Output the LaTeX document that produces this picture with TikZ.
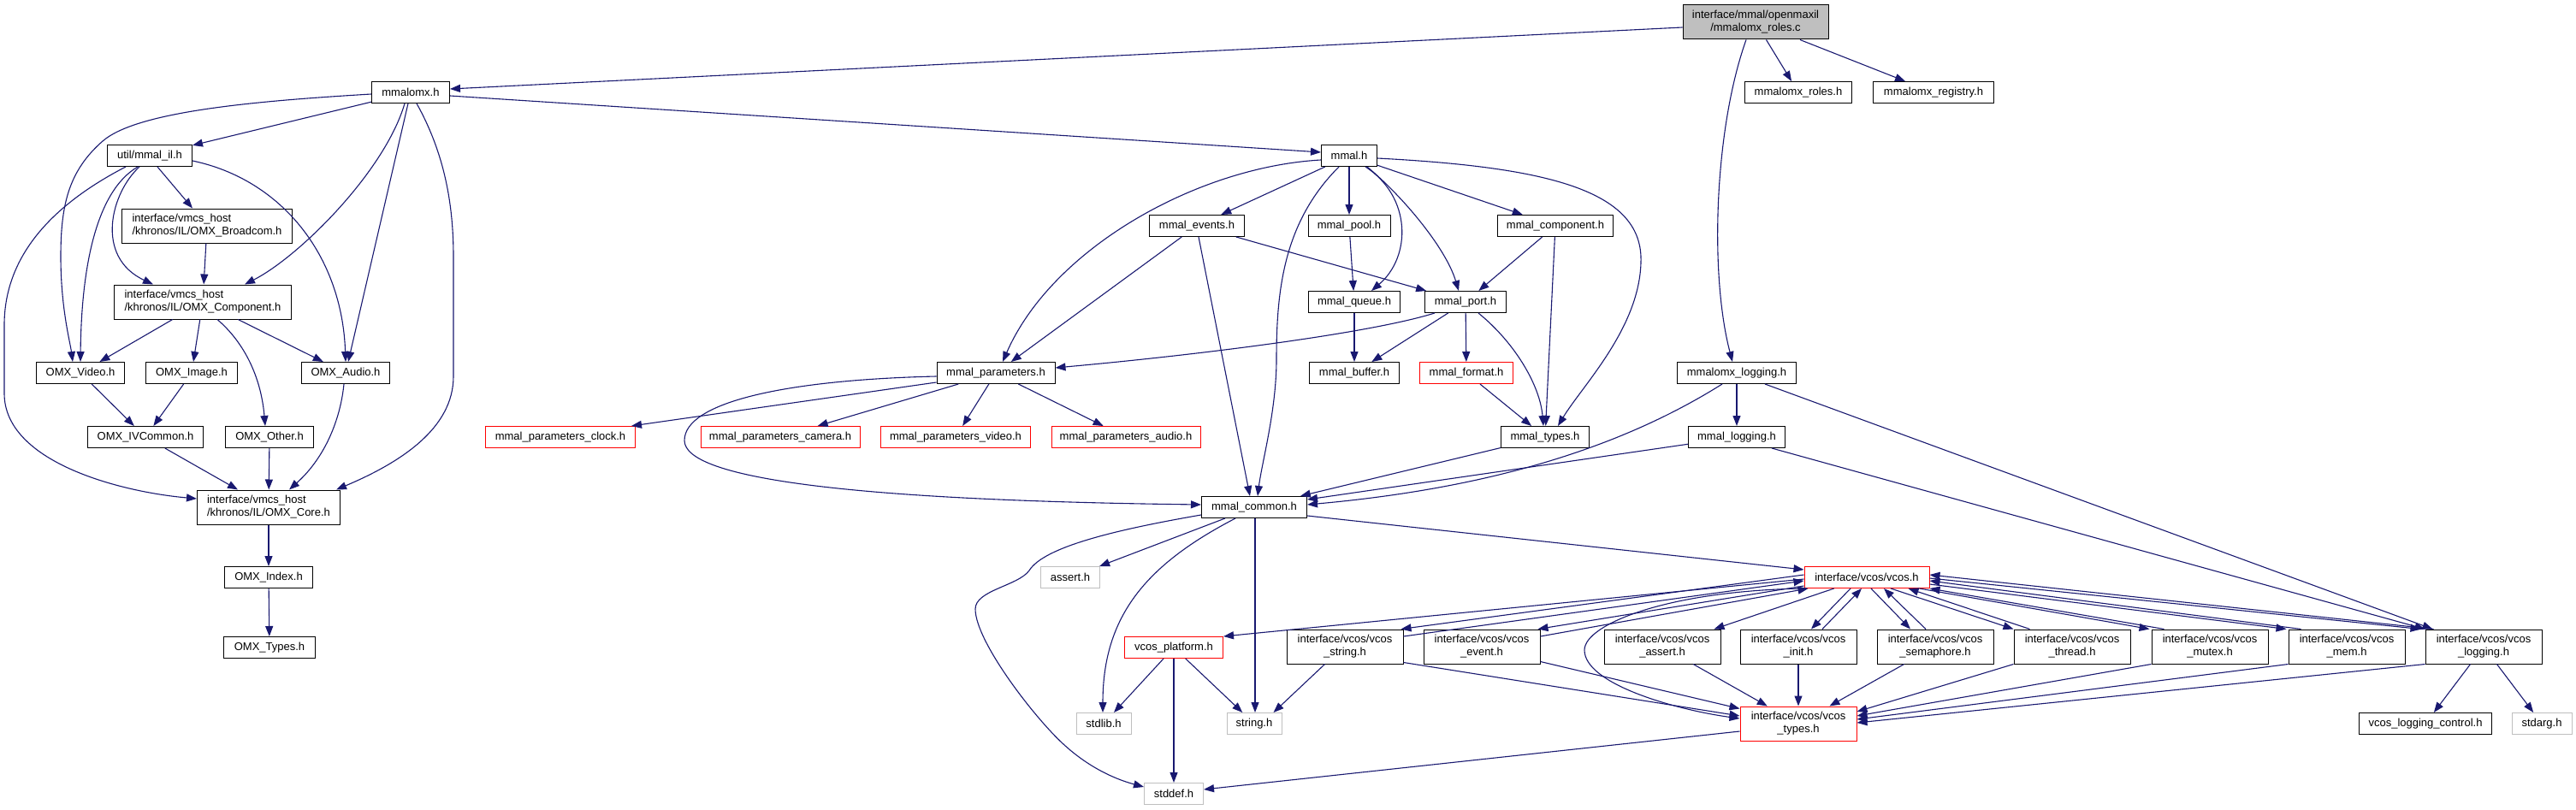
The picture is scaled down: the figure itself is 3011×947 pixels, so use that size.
\documentclass[tikz,border=0pt]{standalone}
\usepackage{fontspec}
\setmainfont{Liberation Sans}
\usetikzlibrary{arrows.meta,calc}
\definecolor{edgecol}{RGB}{25,25,112}
\definecolor{grey75}{RGB}{191,191,191}
\begin{document}
\begin{tikzpicture}[x=1pt,y=-1pt,
  box/.style={draw=black, line width=1pt, rectangle, inner sep=0pt, minimum height=25pt, align=center, font=\fontsize{13}{15}\selectfont},
  tall/.style={minimum height=40pt},
  redbox/.style={box, draw=red},
  greybox/.style={box, draw=grey75},
  dep/.style={draw=edgecol, line width=1.1pt, -{Triangle[length=12pt,width=9pt]}},
]
\useasboundingbox (0,0) rectangle (3011,947);

% ---------- nodes ----------
\node[box, tall, fill=grey75, minimum width=170pt] (root) at (2052,26) {interface/mmal/openmaxil\\/mmalomx\_roles.c};
\node[box, minimum width=91pt] (mmalomx) at (480,108) {mmalomx.h};
\node[box, minimum width=125pt] (roles) at (2102,108) {mmalomx\_roles.h};
\node[box, minimum width=141pt] (registry) at (2260,108) {mmalomx\_registry.h};
\node[box, minimum width=99pt] (mmalil) at (175,182) {util/mmal\_il.h};
\node[box, minimum width=65pt] (mmal) at (1577,182) {mmal.h};
\node[box, tall, align=left, minimum width=199pt] (broadcom) at (242,264) {interface/vmcs\_host\\/khronos/IL/OMX\_Broadcom.h};
\node[box, minimum width=111pt] (events) at (1399,264) {mmal\_events.h};
\node[box, minimum width=96pt] (pool) at (1577,264) {mmal\_pool.h};
\node[box, minimum width=135pt] (component) at (1818,264) {mmal\_component.h};
\node[box, tall, align=left, minimum width=207pt] (omxcomp) at (237,353) {interface/vmcs\_host\\/khronos/IL/OMX\_Component.h};
\node[box, minimum width=107pt] (queue) at (1583,353) {mmal\_queue.h};
\node[box, minimum width=95pt] (port) at (1713,353) {mmal\_port.h};
\node[box, minimum width=103pt] (video) at (94,436) {OMX\_Video.h};
\node[box, minimum width=107pt] (image) at (224,436) {OMX\_Image.h};
\node[box, minimum width=103pt] (audio) at (404,436) {OMX\_Audio.h};
\node[box, minimum width=138pt] (params) at (1164,436) {mmal\_parameters.h};
\node[box, minimum width=105pt] (buffer) at (1583,436) {mmal\_buffer.h};
\node[redbox, minimum width=109pt] (format) at (1714,436) {mmal\_format.h};
\node[box, minimum width=139pt] (omxlogging) at (2030,436) {mmalomx\_logging.h};
\node[box, minimum width=135pt] (ivcommon) at (170,511) {OMX\_IVCommon.h};
\node[box, minimum width=103pt] (other) at (315,511) {OMX\_Other.h};
\node[redbox, minimum width=175pt] (clock) at (655,511) {mmal\_parameters\_clock.h};
\node[redbox, minimum width=186pt] (camera) at (912,511) {mmal\_parameters\_camera.h};
\node[redbox, minimum width=175pt] (pvideo) at (1117,511) {mmal\_parameters\_video.h};
\node[redbox, minimum width=174pt] (paudio) at (1316,511) {mmal\_parameters\_audio.h};
\node[box, minimum width=103pt] (mtypes) at (1806,511) {mmal\_types.h};
\node[box, minimum width=113pt] (mlogging) at (2030,511) {mmal\_logging.h};
\node[box, tall, align=left, minimum width=167pt] (core) at (314,593) {interface/vmcs\_host\\/khronos/IL/OMX\_Core.h};
\node[box, minimum width=123pt] (common) at (1466,593) {mmal\_common.h};
\node[box, minimum width=103pt] (index) at (314,675) {OMX\_Index.h};
\node[greybox, minimum width=69pt] (assert) at (1251,675) {assert.h};
\node[redbox, minimum width=146pt] (vcos) at (2182,675) {interface/vcos/vcos.h};
\node[box, minimum width=107pt] (otypes) at (315,757) {OMX\_Types.h};
\node[redbox, minimum width=115pt] (platform) at (1372,757) {vcos\_platform.h};
\node[box, tall, minimum width=136pt] (vstring) at (1572,756) {interface/vcos/vcos\\\_string.h};
\node[box, tall, minimum width=136pt] (vevent) at (1732,756) {interface/vcos/vcos\\\_event.h};
\node[box, tall, minimum width=136pt] (vassert) at (1943,756) {interface/vcos/vcos\\\_assert.h};
\node[box, tall, minimum width=136pt] (vinit) at (2102,756) {interface/vcos/vcos\\\_init.h};
\node[box, tall, minimum width=136pt] (vsem) at (2262,756) {interface/vcos/vcos\\\_semaphore.h};
\node[box, tall, minimum width=136pt] (vthread) at (2422,756) {interface/vcos/vcos\\\_thread.h};
\node[box, tall, minimum width=136pt] (vmutex) at (2583,756) {interface/vcos/vcos\\\_mutex.h};
\node[box, tall, minimum width=136pt] (vmem) at (2743,756) {interface/vcos/vcos\\\_mem.h};
\node[box, tall, minimum width=136pt] (vlogging) at (2903,756) {interface/vcos/vcos\\\_logging.h};
\node[greybox, minimum width=64pt] (stdlib) at (1290,846) {stdlib.h};
\node[greybox, minimum width=64pt] (string) at (1466,846) {string.h};
\node[redbox, tall, minimum width=136pt] (vtypes) at (2102,846) {interface/vcos/vcos\\\_types.h};
\node[box, minimum width=155pt] (logctl) at (2835,846) {vcos\_logging\_control.h};
\node[greybox, minimum width=70pt] (stdarg) at (2971,846) {stdarg.h};
\node[greybox, minimum width=69pt] (stddef) at (1372,928) {stddef.h};

% ---------- edges: root ----------
\draw[dep] ($(root.west)+(0,6)$) -- ($(mmalomx.east)+(0,-4)$);
\draw[dep] (root) -- (roles);
\draw[dep] (root) -- (registry);
\draw[dep] ($(root.south)+(-11,0)$) .. controls (2004,150) and (1998,320) .. ($(omxlogging.north)+(-5,0)$);

% ---------- mmalomx.h ----------
\draw[dep] ($(mmalomx.east)+(0,4)$) -- ($(mmal.west)+(0,-4)$);
\draw[dep] (mmalomx) -- (mmalil);
\draw[dep] ($(mmalomx.west)+(0,2)$) .. controls (300,118) and (160,130) .. (120,165) .. controls (80,200) and (71,240) .. (71,300) .. controls (71,360) and (82,400) .. ($(video.north)+(-9,0)$);
\draw[dep] ($(mmalomx.south)+(-7,0)$) .. controls (450,200) and (350,300) .. ($(omxcomp.north)+(49,0)$);
\draw[dep] (mmalomx) -- (audio);
\draw[dep] ($(mmalomx.south)+(7,0)$) .. controls (520,180) and (530,240) .. (530,300) -- (530,440) .. controls (530,500) and (470,540) .. ($(core.north east)+(-5,0)$);

% ---------- util/mmal_il.h ----------
\draw[dep] ($(mmalil.south)+(9,0)$) -- ($(broadcom.north)+(-17,0)$);
\draw[dep] ($(mmalil.south)+(-12,0)$) .. controls (130,225) and (110,300) .. ($(omxcomp.north)+(-58,0)$);
\draw[dep] ($(mmalil.south)+(-14,0)$) .. controls (110,225) and (95,320) .. (video.north);
\draw[dep] ($(mmalil.east)+(0,6)$) .. controls (330,210) and (400,300) .. (audio.north);
\draw[dep] ($(mmalil.south)+(-28,0)$) .. controls (60,240) and (5,300) .. (5,380) -- (5,460) .. controls (5,540) and (140,575) .. ($(core.west)+(0,-10)$);

% ---------- OMX ----------
\draw[dep] (broadcom) -- (omxcomp);
\draw[dep] (omxcomp) -- (video);
\draw[dep] (omxcomp) -- (image);
\draw[dep] (omxcomp) -- (audio);
\draw[dep] ($(omxcomp.south)+(17,0)$) .. controls (285,400) and (305,440) .. ($(other.north)+(-5,0)$);
\draw[dep] (video) -- (ivcommon);
\draw[dep] (image) -- (ivcommon);
\draw[dep] (ivcommon) -- (core);
\draw[dep] (other) -- (core);
\draw[dep] ($(audio.south)+(-2,0)$) .. controls (398,490) and (380,535) .. ($(core.north)+(24,0)$);
\draw[dep] (core) -- (index);
\draw[dep] (index) -- (otypes);

% ---------- mmal.h ----------
\draw[dep] (mmal) -- (events);
\draw[dep] ($(mmal.west)+(0,5)$) .. controls (1400,195) and (1230,290) .. ($(params.north)+(8,0)$);
\draw[dep] ($(mmal.south)+(-12,0)$) .. controls (1500,260) and (1492,340) .. (1492,420) .. controls (1492,480) and (1475,540) .. ($(common.north)+(4,0)$);
\draw[dep] (mmal) -- (pool);
\draw[dep] ($(mmal.south)+(19,0)$) .. controls (1650,230) and (1650,300) .. ($(queue.north)+(20,0)$);
\draw[dep] ($(mmal.south)+(21,0)$) .. controls (1640,230) and (1690,290) .. ($(port.north)+(-8,0)$);
\draw[dep] (mmal) -- (component);
\draw[dep] ($(mmal.east)+(0,3)$) .. controls (1800,195) and (1915,220) .. (1918,300) .. controls (1920,380) and (1850,450) .. ($(mtypes.north)+(15,0)$);

% ---------- mmal internals ----------
\draw[dep] (events) -- (params);
\draw[dep] ($(events.south)+(2,0)$) -- ($(common.north)+(-5,0)$);
\draw[dep] (events) -- (port);
\draw[dep] (pool) -- (queue);
\draw[dep] (component) -- (port);
\draw[dep] (component) -- (mtypes);
\draw[dep] (queue) -- (buffer);
\draw[dep] (port) -- (buffer);
\draw[dep] (port) -- (format);
\draw[dep] ($(port.south)+(15,0)$) .. controls (1770,400) and (1800,450) .. ($(mtypes.north)+(-2,0)$);
\draw[dep] ($(port.south west)+(12,0)$) .. controls (1600,390) and (1400,415) .. ($(params.east)+(0,-6)$);
\draw[dep] (format) -- (mtypes);
\draw[dep] ($(params.south west)+(0,-2)$) -- ($(clock.north east)+(-5,0)$);
\draw[dep] (params) -- (camera);
\draw[dep] (params) -- (pvideo);
\draw[dep] (params) -- (paudio);
\draw[dep] ($(params.west)+(0,4)$) .. controls (920,444) and (800,470) .. (800,515) .. controls (800,560) and (1000,585) .. ($(common.west)+(0,-3)$);
\draw[dep] (mtypes) -- (common);

% ---------- logging ----------
\draw[dep] (omxlogging) -- (mlogging);
\draw[dep] ($(omxlogging.south)+(-17,0)$) .. controls (1900,520) and (1750,570) .. ($(common.east)+(0,-3)$);
\draw[dep] ($(omxlogging.south east)+(-37,0)$) -- ($(vlogging.north west)+(9,0)$);
\draw[dep] (mlogging) -- (common);
\draw[dep] ($(mlogging.south east)+(-16,0)$) -- (vlogging.north west);

% ---------- mmal_common.h ----------
\draw[dep] ($(common.south east)+(0,-3)$) -- ($(vcos.west)+(0,-9)$);
\draw[dep] (common) -- (assert);
\draw[dep] ($(common.south)+(-22,0)$) .. controls (1340,660) and (1289,720) .. ($(stdlib.north)+(-1,0)$);
\draw[dep] ($(common.south)+(1,0)$) -- ($(string.north)+(1,0)$);
\draw[dep] ($(common.west)+(0,9)$) .. controls (1300,620) and (1220,640) .. (1203,667) .. controls (1190,685) and (1140,690) .. (1140,712) .. controls (1140,750) and (1210,840) .. (1243,870) .. controls (1270,895) and (1300,910) .. ($(stddef.west)+(0,-8)$);

% ---------- vcos.h ----------
\draw[dep] ($(vcos.west)+(0,2)$) -- (platform.north east);
\draw[dep] ($(vcos.west)+(0,-3)$) -- ($(vstring.north east)+(-3,0)$);
\draw[dep] ($(vstring.east)+(0,-12)$) -- ($(vcos.west)+(0,4)$);
\draw[dep] ($(vcos.south west)+(0,-3)$) -- ($(vevent.north east)+(-3,0)$);
\draw[dep] ($(vevent.east)+(0,-12)$) -- ($(vcos.south west)+(5,0)$);
\draw[dep] (vcos) -- (vassert);
\draw[dep] ($(vcos.south)+(-19,0)$) -- ($(vinit.north)+(15,0)$);
\draw[dep] ($(vinit.north)+(28,0)$) -- ($(vcos.south)+(-6,0)$);
\draw[dep] ($(vcos.south)+(5,0)$) -- ($(vsem.north)+(-29,0)$);
\draw[dep] ($(vsem.north)+(-11,0)$) -- ($(vcos.south)+(20,0)$);
\draw[dep] ($(vcos.south)+(28,0)$) -- (vthread.north west);
\draw[dep] ($(vthread.north west)+(19,0)$) -- ($(vcos.south east)+(-25,0)$);
\draw[dep] ($(vcos.south east)+(-12,0)$) -- ($(vmutex.north west)+(-2,0)$);
\draw[dep] ($(vmutex.north west)+(15,0)$) -- (vcos.south east);
\draw[dep] ($(vcos.east)+(0,8)$) -- ($(vmem.north west)+(-2,0)$);
\draw[dep] ($(vmem.north west)+(15,0)$) -- ($(vcos.east)+(0,4)$);
\draw[dep] ($(vcos.east)+(0,1)$) -- ($(vlogging.north west)+(-5,0)$);
\draw[dep] ($(vlogging.north west)+(10,0)$) -- ($(vcos.east)+(0,-3)$);
\draw[dep] ($(vcos.south west)+(3,0)$) .. controls (1950,690) and (1852,730) .. (1852,760) .. controls (1852,800) and (1960,830) .. ($(vtypes.west)+(0,-6)$);

% ---------- to vcos_types.h ----------
\draw[dep] ($(vstring.south east)+(0,-2)$) -- ($(vtypes.west)+(0,-9)$);
\draw[dep] ($(vevent.south east)+(0,-3)$) -- ($(vtypes.north west)+(0,3)$);
\draw[dep] (vassert) -- (vtypes);
\draw[dep] (vinit) -- (vtypes);
\draw[dep] (vsem) -- (vtypes);
\draw[dep] (vthread.south west) -- ($(vtypes.east)+(0,-14)$);
\draw[dep] (vmutex.south west) -- ($(vtypes.east)+(0,-9)$);
\draw[dep] (vmem.south west) -- ($(vtypes.east)+(0,-5)$);
\draw[dep] (vlogging.south west) -- ($(vtypes.east)+(0,-1)$);

% ---------- system headers ----------
\draw[dep] ($(vstring.south west)+(45,0)$) -- ($(string.north east)+(-10,0)$);
\draw[dep] ($(vtypes.west)+(0,9)$) -- ($(stddef.east)+(0,-5)$);
\draw[dep] (platform) -- (stdlib);
\draw[dep] (platform) -- (string);
\draw[dep] (platform) -- (stddef);
\draw[dep] (vlogging) -- (logctl);
\draw[dep] (vlogging) -- (stdarg);
\end{tikzpicture}
\end{document}
